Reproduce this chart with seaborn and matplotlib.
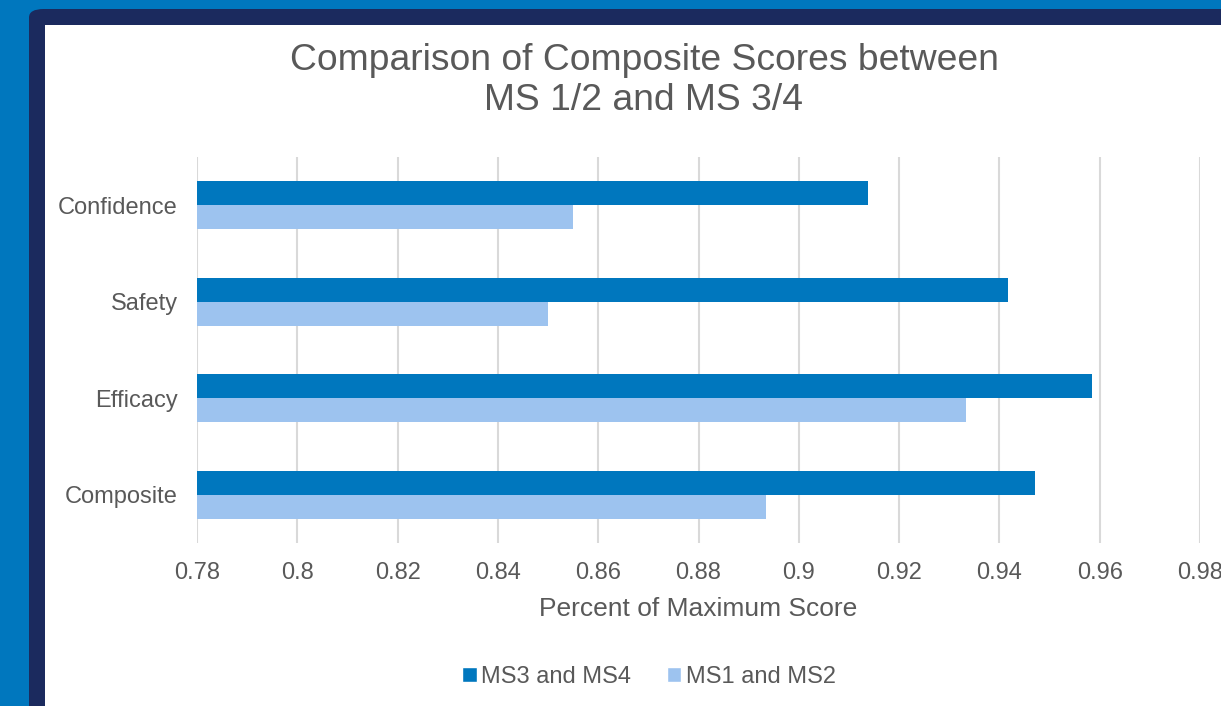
import pandas as pd
import seaborn as sns
import matplotlib.pyplot as plt
from matplotlib.patches import Rectangle, FancyBboxPatch, Patch

# data
categories = ["Confidence", "Safety", "Efficacy", "Composite"]
groups = ["MS3 and MS4", "MS1 and MS2"]
ms34_scores = [0.9138, 0.9417, 0.9585, 0.9470]
ms12_scores = [0.8550, 0.8500, 0.9333, 0.8935]
x_ticks = [0.78, 0.80, 0.82, 0.84, 0.86, 0.88, 0.90, 0.92, 0.94, 0.96, 0.98]
x_tick_labels = ["0.78", "0.8", "0.82", "0.84", "0.86", "0.88", "0.9", "0.92", "0.94", "0.96", "0.98"]

df = pd.DataFrame({
    "measure": categories * 2,
    "group": [groups[0]] * len(categories) + [groups[1]] * len(categories),
    "score": ms34_scores + ms12_scores,
})

DARK = "#0077BE"
LIGHT = "#9DC3EF"
NAVY = "#1B2A5E"
TEXT = "#595959"

sns.set_theme(style="white")
plt.rcParams["font.family"] = ["Liberation Sans", "DejaVu Sans"]

W, H = 1221, 706
fig = plt.figure(figsize=(W / 100, H / 100), dpi=100)
fig.patch.set_facecolor(DARK)

# navy frame and white panel behind the chart
fig.patches.append(FancyBboxPatch((29 / W, -0.2), 1.2, 0.2 + (H - 9) / H, boxstyle="round,pad=0,rounding_size=0.012",
                                  transform=fig.transFigure, facecolor=NAVY, edgecolor="none", zorder=-2))
fig.patches.append(Rectangle((45 / W, 0), 1.2, (H - 25) / H, transform=fig.transFigure,
                             facecolor="white", edgecolor="none", zorder=-1))

ax = fig.add_axes([197 / W, (H - 543) / H, (1200 - 197) / W, (543 - 157) / H])
ax.set_facecolor("none")

sns.barplot(data=df, x="score", y="measure", hue="group", hue_order=groups, order=categories,
            palette=[DARK, LIGHT], orient="h", width=0.5, gap=0, ax=ax, legend=False,
            saturation=1, errorbar=None, linewidth=0)

ax.set_xlim(0.78, 0.98)
ax.set_xticks(x_ticks)
ax.set_xticklabels(x_tick_labels)
ax.xaxis.grid(True, color="#D9D9D9", linewidth=1.5)
ax.set_axisbelow(True)
for s in ax.spines.values():
    s.set_visible(False)
ax.tick_params(axis="both", length=0, labelsize=17, colors=TEXT)
ax.tick_params(axis="x", pad=14)
ax.tick_params(axis="y", pad=14)
ax.set_ylabel("")
ax.set_xlabel("Percent of Maximum Score", fontsize=19, color=TEXT, labelpad=9)

fig.text(644 / W, 1 - 60 / H, "Comparison of Composite Scores between", ha="center", va="center",
         fontsize=26.8, color=TEXT)
fig.text(644 / W, 1 - 101 / H, "MS 1/2 and MS 3/4", ha="center", va="center",
         fontsize=26.8, color=TEXT)

handles = [Patch(facecolor=DARK, label=groups[0]), Patch(facecolor=LIGHT, label=groups[1])]
fig.legend(handles=handles, loc="center", bbox_to_anchor=(649 / W, 1 - 677 / H), ncol=2, frameon=False,
           fontsize=17, handlelength=0.6, handleheight=0.6, handletextpad=0.2, columnspacing=1.5,
           labelcolor=TEXT)

fig.savefig("out.png", dpi=100, facecolor=fig.get_facecolor())
